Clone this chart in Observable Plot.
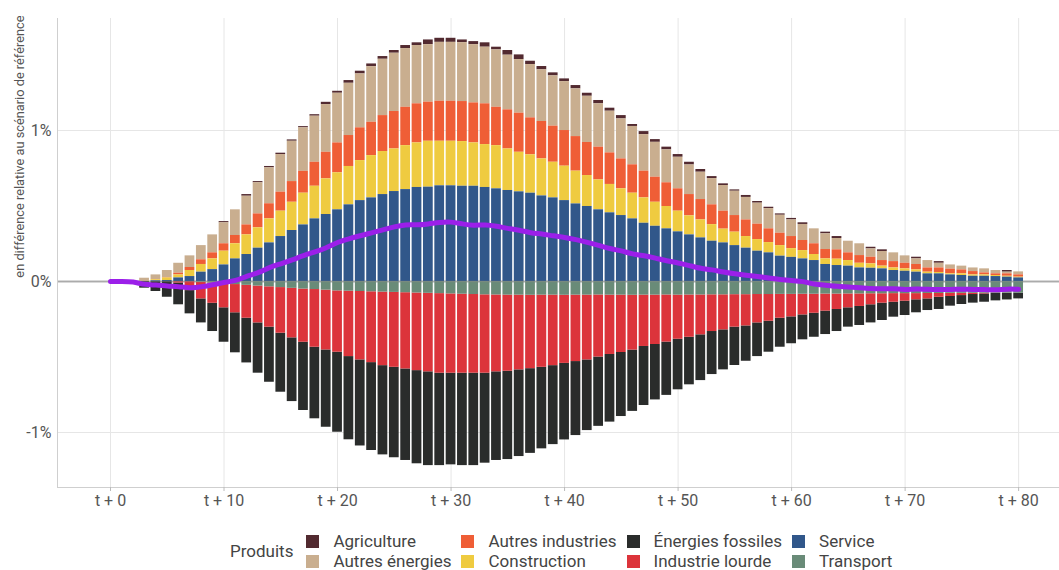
<!DOCTYPE html>
<html><head><meta charset="utf-8">
<script src="https://cdn.jsdelivr.net/npm/d3@7"></script>
<script src="https://cdn.jsdelivr.net/npm/@observablehq/plot@0.6"></script>
<style>
body{margin:0;background:#fff;font-family:Roboto,sans-serif;}
#wrap{position:relative;width:1059px;height:570px;overflow:hidden;}
#legend{position:absolute;left:230px;top:531px;display:flex;align-items:center;font-size:17px;color:#444;}
#legend .title{margin-right:13px;}
#legend .grid{display:grid;grid-template-rows:20px 20px;grid-auto-flow:column;column-gap:10px;}
#legend .item{display:flex;align-items:center;white-space:nowrap;}
#legend .sw{width:13px;height:13px;margin-right:14px;}
</style></head><body><div id="wrap"><div id="chart"></div><div id="legend"></div></div><script>
// ---- data (values in % relative to the reference scenario) ----
const years = d3.range(0, 81); // t + 0 ... t + 80
const service = [0,0,0,0,0.005,0.007,0.024,0.033,0.062,0.079,
0.110,0.150,0.179,0.221,0.256,0.298,0.338,0.375,0.415,0.444,
0.475,0.508,0.536,0.554,0.576,0.596,0.609,0.623,0.625,0.634,
0.634,0.631,0.631,0.623,0.614,0.603,0.594,0.585,0.567,0.554,
0.536,0.514,0.497,0.475,0.455,0.437,0.415,0.386,0.366,0.349,
0.329,0.309,0.289,0.267,0.256,0.238,0.221,0.201,0.190,0.168,
0.160,0.150,0.139,0.113,0.106,0.102,0.090,0.088,0.084,0.073,
0.068,0.062,0.051,0.051,0.044,0.040,0.035,0.035,0.033,0.029,0.024];
const construction = [0,0,0,0,0.007,0.017,0.020,0.040,0.051,0.071,
0.091,0.100,0.130,0.135,0.159,0.168,0.187,0.210,0.216,0.236,
0.245,0.254,0.265,0.280,0.285,0.282,0.291,0.295,0.304,0.295,
0.295,0.296,0.287,0.284,0.286,0.275,0.262,0.254,0.245,0.236,
0.228,0.217,0.205,0.198,0.188,0.177,0.170,0.168,0.159,0.148,
0.137,0.126,0.119,0.110,0.091,0.089,0.077,0.077,0.068,0.070,
0.058,0.055,0.040,0.037,0.042,0.037,0.031,0.029,0.018,0.017,
0.016,0.015,0.011,0.009,0.007,0.011,0.009,0.009,0.007,0.006,0.005];
const autresIndustries = [0,0,0,0,0.002,0.003,0.011,0.020,0.031,0.040,
0.049,0.055,0.066,0.092,0.100,0.126,0.137,0.145,0.159,0.176,
0.198,0.205,0.217,0.221,0.238,0.248,0.254,0.259,0.259,0.265,
0.265,0.265,0.265,0.270,0.254,0.259,0.259,0.245,0.248,0.239,
0.236,0.229,0.219,0.217,0.209,0.198,0.188,0.177,0.166,0.157,
0.148,0.141,0.135,0.131,0.119,0.110,0.110,0.102,0.091,0.082,
0.080,0.067,0.071,0.062,0.062,0.051,0.051,0.044,0.037,0.042,
0.037,0.036,0.028,0.030,0.031,0.026,0.022,0.013,0.011,0.016,0.015];
const autresEnergies = [0,0,0,0.022,0.030,0.046,0.066,0.077,0.094,0.119,
0.139,0.170,0.190,0.206,0.238,0.249,0.267,0.288,0.305,0.316,
0.329,0.346,0.357,0.368,0.373,0.386,0.389,0.386,0.381,0.390,
0.390,0.390,0.386,0.375,0.380,0.362,0.355,0.353,0.342,0.333,
0.324,0.316,0.306,0.287,0.276,0.265,0.254,0.242,0.231,0.218,
0.209,0.196,0.181,0.174,0.170,0.161,0.149,0.139,0.134,0.119,
0.110,0.106,0.099,0.104,0.075,0.077,0.078,0.055,0.060,0.058,
0.049,0.037,0.049,0.031,0.028,0.025,0.024,0.027,0.022,0.011,0.020];
const agriculture = [0,0,0,0,0,0,0,0,0,0,
0.008,0,0.011,0.008,0.009,0.009,0.009,0.008,0.010,0.015,
0.013,0.018,0.018,0.018,0.018,0.018,0.020,0.018,0.031,0.027,
0.027,0.018,0.020,0.029,0.018,0.031,0.031,0.022,0.022,0.020,
0.018,0.022,0.020,0.022,0.020,0.022,0.013,0.020,0.018,0.018,
0.018,0.018,0.018,0.013,0.011,0.009,0.013,0.011,0.009,0.009,
0.010,0.011,0,0.011,0.013,0,0,0.011,0.011,0,
0,0.011,0,0.011,0,0,0,0,0,0.011,0];
const transport = [0,0,0,0,0,0,0,0,-0.005,-0.010,
-0.015,-0.020,-0.025,-0.030,-0.035,-0.040,-0.045,-0.050,-0.053,-0.057,
-0.062,-0.064,-0.066,-0.068,-0.070,-0.072,-0.074,-0.076,-0.078,-0.080,
-0.082,-0.084,-0.086,-0.088,-0.089,-0.090,-0.090,-0.091,-0.090,-0.090,
-0.091,-0.090,-0.090,-0.089,-0.090,-0.090,-0.091,-0.090,-0.090,-0.089,
-0.090,-0.089,-0.089,-0.088,-0.088,-0.087,-0.087,-0.086,-0.086,-0.085,
-0.085,-0.084,-0.084,-0.083,-0.083,-0.082,-0.082,-0.081,-0.081,-0.080,
-0.080,-0.080,-0.079,-0.079,-0.078,-0.078,-0.078,-0.077,-0.077,-0.077,-0.077];
const industrieLourde = [0,0,0,0,0,0,-0.010,-0.060,-0.110,-0.134,
-0.159,-0.187,-0.218,-0.244,-0.267,-0.302,-0.328,-0.352,-0.382,-0.396,
-0.406,-0.433,-0.453,-0.469,-0.487,-0.496,-0.505,-0.514,-0.520,-0.527,
-0.525,-0.523,-0.521,-0.519,-0.509,-0.504,-0.495,-0.486,-0.478,-0.467,
-0.451,-0.440,-0.429,-0.411,-0.393,-0.380,-0.363,-0.340,-0.327,-0.312,
-0.292,-0.280,-0.264,-0.243,-0.232,-0.215,-0.207,-0.188,-0.177,-0.158,
-0.149,-0.137,-0.126,-0.113,-0.102,-0.092,-0.083,-0.073,-0.062,-0.057,
-0.050,-0.041,-0.036,-0.025,-0.021,-0.015,-0.008,-0.005,-0.002,-0.001,0];
const energiesFossiles = [0,0,0,-0.044,-0.066,-0.104,-0.144,-0.154,-0.159,-0.187,
-0.228,-0.265,-0.296,-0.333,-0.365,-0.391,-0.422,-0.452,-0.474,-0.512,
-0.530,-0.551,-0.570,-0.582,-0.591,-0.599,-0.606,-0.617,-0.621,-0.612,
-0.607,-0.612,-0.612,-0.596,-0.587,-0.585,-0.574,-0.561,-0.540,-0.523,
-0.507,-0.490,-0.468,-0.459,-0.448,-0.424,-0.406,-0.391,-0.367,-0.353,
-0.335,-0.315,-0.303,-0.285,-0.265,-0.254,-0.234,-0.223,-0.205,-0.192,
-0.178,-0.165,-0.159,-0.155,-0.146,-0.128,-0.126,-0.120,-0.115,-0.099,
-0.095,-0.086,-0.077,-0.081,-0.064,-0.059,-0.057,-0.055,-0.049,-0.044,-0.038];

const legendOrder = ["Agriculture","Autres énergies","Autres industries","Construction","Énergies fossiles","Industrie lourde","Service","Transport"];
const legendColors = ["#522a30","#c9ae8f","#ef5e36","#efcb40","#2a2c2b","#dc343b","#31578a","#698b78"];
const stackOrder = ["Transport","Service","Industrie lourde","Construction","Énergies fossiles","Autres industries","Autres énergies","Agriculture"];
const xTicks = [0,10,20,30,40,50,60,70,80];
const yTicks = [-1,0,1];
const yLabel = "en différence relative au scénario de référence";
const legendTitle = "Produits";

// ---- table ----
const seriesValues = {
  "Agriculture": agriculture, "Autres énergies": autresEnergies, "Autres industries": autresIndustries,
  "Construction": construction, "Énergies fossiles": energiesFossiles, "Industrie lourde": industrieLourde,
  "Service": service, "Transport": transport
};
const table = [];
for (const name of legendOrder) seriesValues[name].forEach((v, i) => table.push({t: years[i], series: name, value: v}));
const totals = years.map((t, i) => ({t, total: d3.sum(legendOrder, n => seriesValues[n][i])}));

const chart = Plot.plot({
  width: 1059, height: 527,
  marginLeft: 57, marginRight: 0, marginTop: 18, marginBottom: 40,
  style: {fontFamily: "Roboto, sans-serif", fontSize: "16px", color: "#555", background: "white"},
  x: {domain: [-4.67, 83.6], label: null},
  y: {domain: [-1.364, 1.742], label: null},
  color: {domain: legendOrder, range: legendColors},
  marks: [
    Plot.gridX(xTicks, {stroke: "#e6e6e6", strokeOpacity: 1, strokeWidth: 1}),
    Plot.gridY([-1, 1], {stroke: "#e6e6e6", strokeOpacity: 1, strokeWidth: 1}),
    Plot.ruleY([0], {stroke: "#c8c8c8", strokeWidth: 2}),
    Plot.rectY(table, Plot.stackY({
      x: "t", x1: d => d.t - 0.5, x2: d => d.t + 0.5, y: "value",
      fill: "series", order: stackOrder, insetLeft: 0.8, insetRight: 0.8
    })),
    Plot.ruleY([0], {stroke: "#888", strokeOpacity: 0.45, strokeWidth: 1.5}),
    Plot.line(totals, {x: "t", y: "total", stroke: "#9b1fe9", strokeWidth: 5, curve: "basis"}),
    Plot.frame({anchor: "left", stroke: "#cfcfcf"}),
    Plot.frame({anchor: "bottom", stroke: "#cfcfcf"}),
    Plot.axisX(xTicks, {tickFormat: d => `t + ${d}`, tickSize: 4, tickPadding: 3, stroke: "#bbb", fill: "#555", label: null, fontSize: 16}),
    Plot.axisY(yTicks, {tickFormat: d => `${d}%`, tickSize: 0, tickPadding: 6, fill: "#555", label: null, fontSize: 16}),
    Plot.text([yLabel], {frameAnchor: "top-left", text: d => d, rotate: -90, textAnchor: "end", dx: -43, dy: -3, fontSize: 12.8, fill: "#555"})
  ]
});
document.getElementById("chart").appendChild(chart);

// ---- legend ----
const legend = document.getElementById("legend");
const title = document.createElement("div");
title.className = "title"; title.textContent = legendTitle;
legend.appendChild(title);
const grid = document.createElement("div");
grid.className = "grid";
legendOrder.forEach((name, i) => {
  const item = document.createElement("div");
  item.className = "item";
  const sw = document.createElement("span");
  sw.className = "sw"; sw.style.background = legendColors[i];
  const lab = document.createElement("span");
  lab.textContent = name;
  item.appendChild(sw); item.appendChild(lab);
  grid.appendChild(item);
});
legend.appendChild(grid);
</script></body></html>
